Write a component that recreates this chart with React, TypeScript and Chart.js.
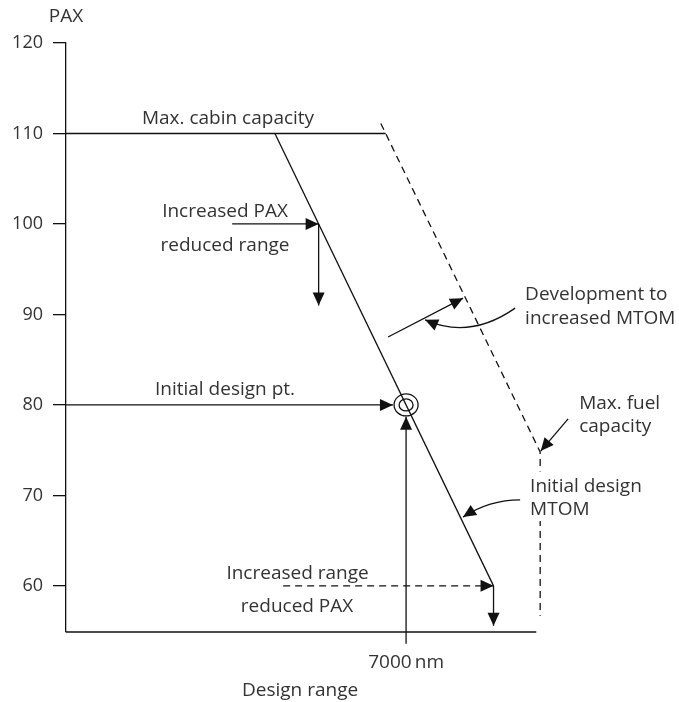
import { useEffect, useRef } from 'react';
import { Chart, registerables } from 'chart.js';
Chart.register(...registerables);

// ---- scales ----
const yTicks = [60, 70, 80, 90, 100, 110, 120];
const xMin = 0;
const xMax = 12000; // design range, nm
const yMin = 54.9;
const yMax = 120; // PAX

// ---- lines (x = range in nm, y = PAX) ----
const cabinX = [0, 6580];
const cabinY = [110, 110];
const mtomX = [4300, 8800];
const mtomY = [110, 60];
const fuelX = [6480, 9760, 9760];
const fuelY = [111.1, 74.8, 56.7];
const rangeAxisX = [0, 9680];
const rangeAxisY = [54.9, 54.9];

// ---- arrows (last point = tip) ----
const paxArrowX = [3420, 5200];
const paxArrowY = [100, 100];
const paxDropX = [5200, 5200];
const paxDropY = [100, 91.0];
const designArrowX = [0, 6730];
const designArrowY = [80, 80];
const designRiseX = [7000, 7000];
const designRiseY = [53.6, 78.7];
const rangeArrowX = [4470, 8800];
const rangeArrowY = [60, 60];
const rangeDropX = [8800, 8800];
const rangeDropY = [60, 55.6];
const fuelPointerX = [10335, 9770];
const fuelPointerY = [78.45, 74.9];
const devArrowX = [6629, 8173];
const devArrowY = [87.5, 91.8];

// curved pointers: start, control, tip
const devCurveX = [9244, 8318, 7391];
const devCurveY = [90.7, 87.2, 89.4];
const mtomCurveX = [9347, 8709, 8173];
const mtomCurveY = [69.5, 69.5, 67.6];

// design point
const designPointX = 7000;
const designPointY = 80;

// ---- labels ----
const labelTexts = [
  'PAX',
  'Max. cabin capacity',
  'Increased PAX',
  'reduced range',
  'Initial design pt.',
  'Increased range',
  'reduced PAX',
  '7000\u2009nm',
  'Design range',
  'Development to',
  'increased MTOM',
  'Max. fuel',
  'capacity',
  'Initial design',
  'MTOM',
];
const labelX = [0, 3335, 3273, 3273, 3273, 4766, 4756, 7000, 4818, 9450, 9450, 10562, 10562, 9553, 9553];
const labelY = [123.1, 111.8, 101.5, 97.8, 81.9, 61.5, 57.9, 51.7, 48.6, 92.4, 89.7, 80.3, 77.8, 71.2, 68.6];
const labelAlign = ['center', 'center', 'center', 'center', 'center', 'center', 'center', 'center', 'center', 'left', 'left', 'left', 'left', 'left', 'left'];
const labelBg = [false, false, false, false, false, false, false, false, false, false, false, false, false, true, true];

const INK = '#111';
const TEXT = '#333';
const FONT = '"Open Sans", "Liberation Sans", sans-serif';

const pts = (xs: number[], ys: number[]) => xs.map((x, i) => ({ x, y: ys[i] }));

function head(ctx: CanvasRenderingContext2D, x0: number, y0: number, x1: number, y1: number) {
  const len = 13;
  const hw = 6;
  const a = Math.atan2(y1 - y0, x1 - x0);
  const c = Math.cos(a);
  const s = Math.sin(a);
  ctx.beginPath();
  ctx.moveTo(x1, y1);
  ctx.lineTo(x1 - len * c + hw * s, y1 - len * s - hw * c);
  ctx.lineTo(x1 - len * c - hw * s, y1 - len * s + hw * c);
  ctx.closePath();
  ctx.fill();
}

const annotate = {
  id: 'annotate',
  afterDatasetsDraw(chart: any) {
    const { ctx } = chart;
    const xs = chart.scales.x;
    const ys = chart.scales.y;
    const px = (v: number) => xs.getPixelForValue(v);
    const py = (v: number) => ys.getPixelForValue(v);
    ctx.save();
    ctx.fillStyle = INK;
    ctx.strokeStyle = INK;
    ctx.lineWidth = 1.3;
    ctx.setLineDash([]);

    // arrowheads on arrow datasets
    chart.data.datasets.forEach((ds: any, i: number) => {
      if (!ds.arrow) return;
      const d = chart.getDatasetMeta(i).data;
      const a = d[d.length - 2];
      const b = d[d.length - 1];
      head(ctx, a.x, a.y, b.x, b.y);
    });

    // curved pointers
    [[devCurveX, devCurveY], [mtomCurveX, mtomCurveY]].forEach(([cx, cy]) => {
      const x0 = px(cx[0]), y0 = py(cy[0]);
      const x1 = px(cx[1]), y1 = py(cy[1]);
      const x2 = px(cx[2]), y2 = py(cy[2]);
      ctx.beginPath();
      ctx.moveTo(x0, y0);
      ctx.quadraticCurveTo(x1, y1, x2, y2);
      ctx.stroke();
      head(ctx, x1, y1, x2, y2);
    });

    // design point double circle
    const dx = px(designPointX);
    const dy = py(designPointY);
    ctx.beginPath();
    ctx.ellipse(dx, dy, 12, 11, 0, 0, Math.PI * 2);
    ctx.stroke();
    ctx.beginPath();
    ctx.ellipse(dx, dy, 7, 6, 0, 0, Math.PI * 2);
    ctx.stroke();

    // labels
    ctx.font = `19px ${FONT}`;
    ctx.textBaseline = 'alphabetic';
    labelTexts.forEach((t, i) => {
      const x = px(labelX[i]);
      const y = py(labelY[i]);
      const w = ctx.measureText(t).width;
      const left = labelAlign[i] === 'center' ? x - w / 2 : x;
      if (labelBg[i]) {
        ctx.fillStyle = '#fff';
        ctx.fillRect(left - 2, y - 13, w + 4, 26);
      }
      ctx.fillStyle = TEXT;
      ctx.textAlign = 'left';
      ctx.fillText(t, left, y + 7);
    });
    ctx.restore();
  },
};

export default function App() {
  const ref = useRef<HTMLCanvasElement>(null);
  useEffect(() => {
    if (!ref.current) return;
    const line = (xs: number[], ys: number[], extra: any = {}) => ({
      data: pts(xs, ys),
      showLine: true,
      pointRadius: 0,
      borderColor: INK,
      borderWidth: 1.3,
      fill: false,
      tension: 0,
      clip: false,
      ...extra,
    });
    const chart = new Chart(ref.current, {
      type: 'scatter',
      data: {
        datasets: [
          line(cabinX, cabinY),
          line(mtomX, mtomY),
          line(fuelX, fuelY, { borderDash: [7, 5] }),
          line(rangeAxisX, rangeAxisY),
          line(paxArrowX, paxArrowY, { arrow: true }),
          line(paxDropX, paxDropY, { arrow: true }),
          line(designArrowX, designArrowY, { arrow: true }),
          line(designRiseX, designRiseY, { arrow: true }),
          line(rangeArrowX, rangeArrowY, { arrow: true, borderDash: [7, 5] }),
          line(rangeDropX, rangeDropY, { arrow: true }),
          line(fuelPointerX, fuelPointerY, { arrow: true }),
          line(devArrowX, devArrowY, { arrow: true }),
        ] as any,
      },
      options: {
        responsive: false,
        animation: false,
        events: [],
        layout: { padding: { left: 0, top: 43, right: 30, bottom: 70 } },
        plugins: { legend: { display: false }, tooltip: { enabled: false } },
        scales: {
          x: { type: 'linear', display: false, min: xMin, max: xMax },
          y: {
            type: 'linear',
            min: yMin,
            max: yMax,
            afterFit: (s: any) => {
              s.width = 66;
            },
            afterBuildTicks: (s: any) => {
              s.ticks = yTicks.map((v) => ({ value: v }));
            },
            ticks: {
              padding: 10,
              color: TEXT,
              font: { family: FONT, size: 18 },
              callback: (v: any) => String(v),
            },
            grid: { drawOnChartArea: false, drawTicks: true, tickLength: 13, color: INK, lineWidth: 1.3 },
            border: { display: true, color: INK, width: 1.3 },
          },
        },
      } as any,
      plugins: [annotate],
    });
    return () => chart.destroy();
  }, []);
  return (
    <canvas
      ref={ref}
      width={679}
      height={702}
      style={{ position: 'absolute', left: 0, top: 0, width: 679, height: 702 }}
    />
  );
}
